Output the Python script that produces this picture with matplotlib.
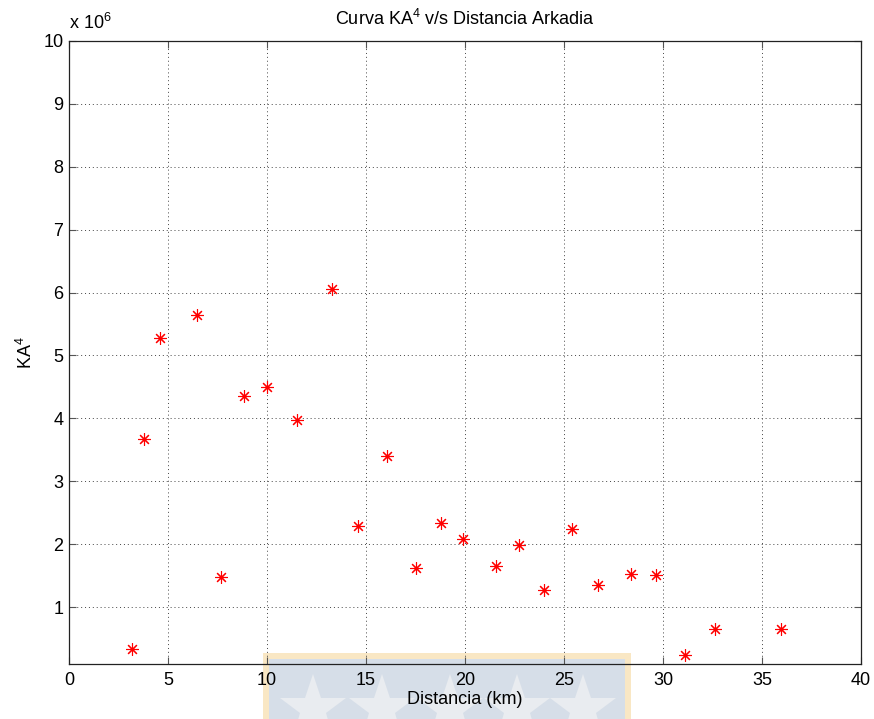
import matplotlib
matplotlib.use('Agg')
import matplotlib.pyplot as plt
from matplotlib.patches import Rectangle
from matplotlib.lines import Line2D
from matplotlib.ticker import FuncFormatter

# Distancia (km) y valores KA^4
distancia = [3.17, 3.79, 4.60, 6.48, 7.66, 8.84, 10.02, 11.50, 13.30, 14.60, 16.05, 17.53,
             18.79, 19.90, 21.55, 22.73, 24.00, 25.42, 26.73, 28.40, 29.65, 31.10, 32.64, 35.94]
ka4 = [0.34, 3.67, 5.27, 5.65, 1.48, 4.36, 4.50, 3.97, 6.06, 2.29, 3.40, 1.63,
       2.34, 2.08, 1.65, 1.99, 1.27, 2.24, 1.35, 1.53, 1.52, 0.24, 0.66, 0.66]
ka4 = [v * 1e6 for v in ka4]

x_ticks = [0, 5, 10, 15, 20, 25, 30, 35, 40]
y_ticks = [1e6, 2e6, 3e6, 4e6, 5e6, 6e6, 7e6, 8e6, 9e6, 10e6]

plt.rcParams['font.family'] = ['Liberation Sans', 'DejaVu Sans']
plt.rcParams['mathtext.fontset'] = 'custom'
plt.rcParams['mathtext.rm'] = 'Liberation Sans'
plt.rcParams['mathtext.default'] = 'regular'

fs = 13

fig = plt.figure(figsize=(8.74, 7.19), dpi=100)
ax = fig.add_axes([0.079, 0.0765, 0.906, 0.8669])
ax.patch.set_alpha(0)

ax.plot(distancia, ka4, ls='none', marker=(8, 2, 0), markersize=9,
        markeredgewidth=0.8, color='red', zorder=3)

ax.set_xlim(0, 40)
ax.set_ylim(0.1e6, 10e6)
ax.set_xticks(x_ticks)
ax.set_yticks(y_ticks)
ax.yaxis.set_major_formatter(FuncFormatter(lambda v, p: '%g' % (v / 1e6)))

ax.grid(True, linestyle=(0, (1, 3)), color='#444444', linewidth=0.7)
ax.tick_params(direction='in', length=5, width=0.8, top=True, right=True,
               labelsize=fs, colors='#555555', labelcolor='black')
ax.tick_params(axis='x', pad=6)
ax.tick_params(axis='y', pad=4)
for s in ax.spines.values():
    s.set_linewidth(0.9)
    s.set_color('#222222')

ax.set_title('Curva KA$^4$ v/s Distancia Arkadia', fontsize=fs, pad=11)
ax.set_xlabel('Distancia (km)', fontsize=fs, labelpad=1)
ax.set_ylabel('KA$^4$', fontsize=fs, labelpad=5)
ax.text(0.0, 1.012, 'x 10$^6$', transform=ax.transAxes, ha='left', va='bottom', fontsize=fs)

# logo de fondo (marca de agua)
W, H = 874.0, 719.0
fig.add_artist(Rectangle((263 / W, 0), 368 / W, 66 / H, transform=fig.transFigure,
                         facecolor='#f9e7c4', edgecolor='none', zorder=-3))
fig.add_artist(Rectangle((269 / W, 0), 356 / W, 60 / H, transform=fig.transFigure,
                         facecolor='#d6dee8', edgecolor='none', zorder=-2))
star_x = [313 / W, 382 / W, 450 / W, 517 / W, 583 / W]
fig.add_artist(Line2D(star_x, [10 / H] * len(star_x), transform=fig.transFigure,
                      ls='none', marker='*', markersize=50, color='#e9ecf0',
                      markeredgewidth=0, zorder=-1))

fig.savefig('out.png', dpi=100)
